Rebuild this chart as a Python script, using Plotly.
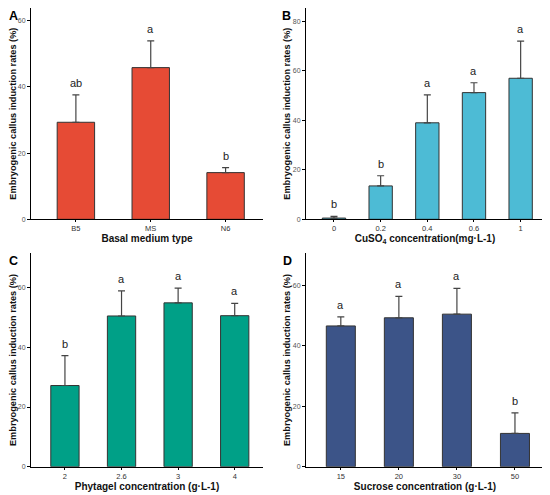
import plotly.graph_objects as go
from plotly.subplots import make_subplots

# panel A - basal medium
medium = ["B5", "MS", "N6"]
medium_rate = [29.3, 45.8, 14.1]
medium_err_top = [37.6, 53.9, 15.6]
medium_sig = ["ab", "a", "b"]

# panel B - CuSO4
cuso4 = ["0", "0.2", "0.4", "0.6", "1"]
cuso4_rate = [0.5, 13.5, 39.0, 51.2, 57.0]
cuso4_err_top = [1.2, 17.6, 50.3, 55.2, 72.0]
cuso4_sig = ["b", "b", "a", "a", "a"]

# panel C - phytagel
phytagel = ["2", "2.6", "3", "4"]
phytagel_rate = [27.2, 50.5, 54.9, 50.6]
phytagel_err_top = [37.2, 58.9, 59.8, 54.7]
phytagel_sig = ["b", "a", "a", "a"]

# panel D - sucrose
sucrose = ["15", "20", "30", "50"]
sucrose_rate = [46.5, 49.2, 50.4, 11.0]
sucrose_err_top = [49.5, 56.3, 58.9, 17.8]
sucrose_sig = ["a", "a", "a", "b"]

panels = [
    (medium, medium_rate, medium_err_top, medium_sig, "#E64B35", "Basal medium type", [0, 63.8], 1, 1),
    (cuso4, cuso4_rate, cuso4_err_top, cuso4_sig, "#4DBBD5", "CuSO<sub>4</sub> concentration(mg·L-1)", [0, 85.4], 1, 2),
    (phytagel, phytagel_rate, phytagel_err_top, phytagel_sig, "#00A087", "Phytagel concentration (g·L-1)", [0, 71.5], 2, 1),
    (sucrose, sucrose_rate, sucrose_err_top, sucrose_sig, "#3C5488", "Sucrose concentration (g·L-1)", [0, 70.5], 2, 2),
]

# the page body has an 8px margin, so the figure is a bit smaller than the window
W, H = 542, 487

fig = make_subplots(rows=2, cols=2)

xdom = {1: [0.0424, 0.4705], 2: [0.5498, 0.9889]}
ydom = {1: [0.5661, 1.0], 2: [0.0581, 0.4963]}

for i, (cats, vals, tops, sig, col, xtitle, yr, r, c) in enumerate(panels):
    fig.add_trace(go.Bar(
        x=cats, y=vals, width=0.5,
        marker=dict(color=col, line=dict(color="#333333", width=1)),
        error_y=dict(type="data", symmetric=False,
                     array=[t - v for t, v in zip(tops, vals)],
                     arrayminus=[0] * len(vals),
                     color="#444444", thickness=1.2, width=3.5),
        showlegend=False), row=r, col=c)
    n = len(cats)
    fig.update_xaxes(domain=xdom[c], range=[-0.6, n - 0.5], type="category",
                     automargin=False,
                     showline=True, linecolor="black", linewidth=1,
                     ticks="outside", ticklen=2, tickcolor="black",
                     tickfont=dict(size=7.5, color="#333333"),
                     title=dict(text="<b>" + xtitle + "</b>", font=dict(size=10, color="#111111"), standoff=0),
                     showgrid=False, zeroline=False, row=r, col=c)
    fig.update_yaxes(domain=ydom[r], range=yr, dtick=20, automargin=False,
                     showline=True, linecolor="black", linewidth=1,
                     ticks="outside", ticklen=3, tickcolor="black",
                     tickfont=dict(size=7, color="#555555"),
                     title=dict(text="<b>Embryogenic callus induction rates (%)</b>",
                                font=dict(size=9.2, color="#111111"), standoff=0),
                     showgrid=False, zeroline=False, row=r, col=c)
    xref = "x" if i == 0 else "x%d" % (i + 1)
    yref = "y" if i == 0 else "y%d" % (i + 1)
    # category axes: place letters by index so "0.2" etc. are not read as numbers
    for j, (t, s) in enumerate(zip(tops, sig)):
        fig.add_annotation(x=j, y=t, xref=xref, yref=yref, text=s,
                           showarrow=False, yanchor="bottom", yshift=4,
                           font=dict(size=11, color="#222222"))

for letter, lx, ly in [("A", 0.0, 1.0), ("B", 0.503, 1.0), ("C", 0.0, 0.497), ("D", 0.505, 0.497)]:
    fig.add_annotation(x=lx, y=ly, xref="paper", yref="paper", text="<b>" + letter + "</b>",
                       showarrow=False, xanchor="left", yanchor="top", borderpad=0,
                       font=dict(size=12.5, color="black"))

fig.update_layout(width=W, height=H, margin=dict(l=0, r=0, t=0, b=0),
                  plot_bgcolor="white", paper_bgcolor="white",
                  font=dict(family="Liberation Sans, Arial, sans-serif"))

fig.write_html("out.html")
